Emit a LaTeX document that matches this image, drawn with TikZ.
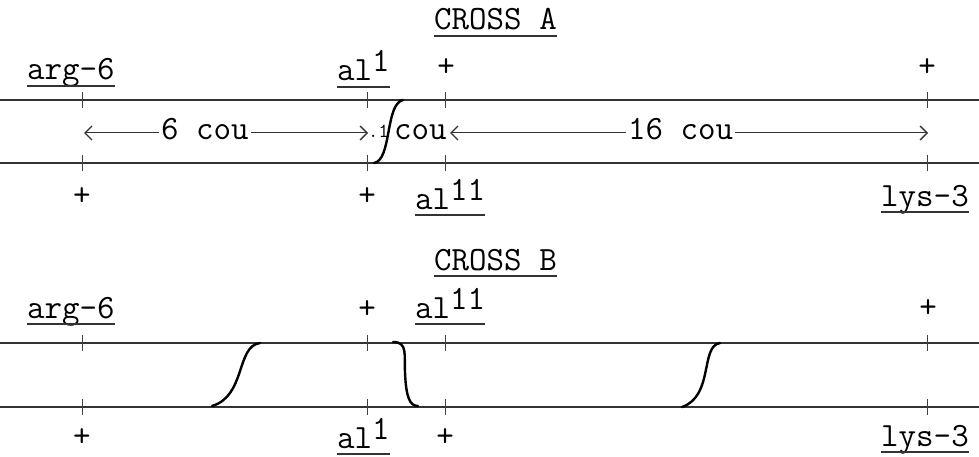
\documentclass[tikz,border=0pt]{standalone}
\usepackage{fontspec}
\usetikzlibrary{arrows.meta,calc}
\newcommand\upr[1]{\raisebox{9pt}{#1}}
\begin{document}
\begin{tikzpicture}[x=1pt,y=-1pt,
  txt/.style={inner sep=0pt, font=\ttfamily\fontsize{34}{34}\selectfont, anchor=base west},
  pl/.style={inner sep=0pt, font=\ttfamily\fontsize{34}{34}\selectfont},
  small/.style={inner sep=0pt, font=\ttfamily\fontsize{20}{20}\selectfont, anchor=base west},
  rail/.style={draw=black!80, line width=1.1pt},
  tickm/.style={draw=black!75, line width=0.8pt},
  uline/.style={draw=black!80, line width=1.1pt},
  arr/.style={draw=black!80, line width=1pt, -{Straight Barb[length=7pt,width=14pt,line width=1.3pt]}},
  xover/.style={draw=black, line width=2.4pt, line cap=round}]
\useasboundingbox (0,0) rectangle (979,457);

% ---------------- CROSS A ----------------
\node[txt] (crossA) at (434,30) {CROSS A};
\node[txt] (argA) at (27,80) {arg-6};
\node[txt] (al1A) at (337,81) {al\upr{1}};
\node[pl] (pA1) at (446,68) {+};
\node[pl] (pA2) at (927,68) {+};

\draw[rail] (0,100) -- (979,100);
\draw[rail] (0,163) -- (979,163);
\foreach \x in {82,367,445,927}{
  \draw[tickm] (\x,92) -- (\x,108);
  \draw[tickm] (\x,155) -- (\x,171);
}

\node[txt] (sixcou) at (161,140) {6 cou};
\node[small] (pt1) at (368,138) {.1};
\node[txt] (couA) at (394,140) {cou};
\node[txt] (sixteen) at (628,140) {16 cou};
\coordinate (aL) at (84,133);
\coordinate (aR) at (368,133);
\coordinate (bL) at (450,133);
\coordinate (bR) at (928,133);
\draw[arr] ($(sixcou.base west)+(-2,-7)$) -- (aL);
\draw[arr] ($(sixcou.base east)+(2,-7)$) -- (aR);
\draw[arr] ($(sixteen.base west)+(-2,-7)$) -- (bL);
\draw[arr] ($(sixteen.base east)+(2,-7)$) -- (bR);

\draw[xover] (374,163) .. controls (392,160) and (385,104) .. (403,100);

\node[pl] (pA3) at (82,197) {+};
\node[pl] (pA4) at (367,197) {+};
\node[txt] (al11A) at (415,209) {al\upr{11}};
\node[txt] (lysA) at (881,206) {lys-3};

% ---------------- CROSS B ----------------
\node[txt] (crossB) at (434,270) {CROSS B};
\node[txt] (argB) at (27,318) {arg-6};
\node[pl] (pB1) at (367,310) {+};
\node[txt] (al11B) at (415,318) {al\upr{11}};
\node[pl] (pB2) at (928,309) {+};

\draw[rail] (0,343) -- (979,343);
\draw[rail] (0,407) -- (979,407);
\foreach \x in {82,367,445,927}{
  \draw[tickm] (\x,335) -- (\x,351);
  \draw[tickm] (\x,399) -- (\x,415);
}

\draw[xover] (212,406) .. controls (246,396) and (236,346) .. (260,343);
\draw[xover] (393,342) .. controls (408,342) and (404,355) .. (405,372)
                       .. controls (406,398) and (410,406) .. (418,406);
\draw[xover] (682,407) .. controls (714,396) and (700,346) .. (720,343);

\node[pl] (pB3) at (82,438) {+};
\node[txt] (al1B) at (337,448) {al\upr{1}};
\node[pl] (pB4) at (445,438) {+};
\node[txt] (lysB) at (881,446) {lys-3};

% underlines
\foreach \n in {crossA,argA,al1A,al11A,lysA,crossB,argB,al11B,al1B,lysB}{
  \draw[uline] ([yshift=-6pt]\n.base west) -- ([yshift=-6pt]\n.base east);
}
\end{tikzpicture}
\end{document}
